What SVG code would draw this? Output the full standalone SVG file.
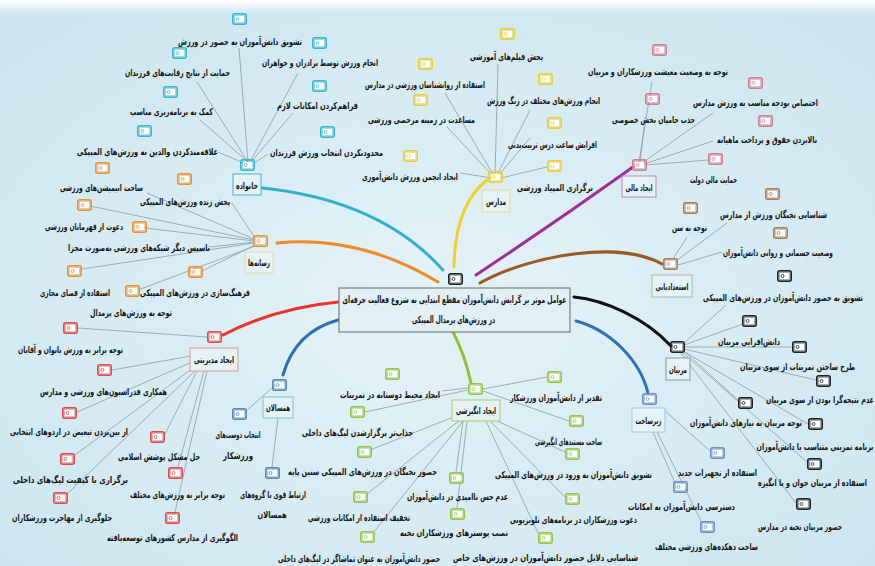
<svg xmlns="http://www.w3.org/2000/svg" xmlns:xlink="http://www.w3.org/1999/xlink" width="875" height="566" viewBox="0 0 875 566">
<style>
.t{font-family:"DejaVu Sans",sans-serif;font-size:9.5px;font-weight:bold;fill:#151515;text-anchor:middle}
.lt{font-family:"DejaVu Sans",sans-serif;font-size:10px;font-weight:bold;fill:#151515;text-anchor:middle}
.ln{stroke:#8d9ca1;stroke-width:0.8;fill:none}
.br{fill:none;stroke-width:3;stroke-linecap:round}
.lb{fill:#e6f3f6;stroke-width:1}
.cy{color:#3ab6cf}.ye{color:#ecd02e}.pk{color:#d77a8e}.bn{color:#b07a55}.bk{color:#222}
.hb{color:#5a86b2}.gr{color:#97c444}.zb{color:#6b8fc4}.rd{color:#e04848}.or{color:#ec9030}
</style>
<defs>
<radialGradient id="bg" cx="0.5" cy="0.55" r="0.7">
<stop offset="0" stop-color="#e5f3f8"/>
<stop offset="1" stop-color="#cce5ef"/>
</radialGradient>
<linearGradient id="top" x1="0" y1="0" x2="0" y2="1">
<stop offset="0" stop-color="#ffffff" stop-opacity="1"/>
<stop offset="1" stop-color="#ffffff" stop-opacity="0"/>
</linearGradient>
<g id="ic">
<rect x="0.75" y="0.75" width="13.5" height="10.5" rx="2" fill="currentColor" fill-opacity="0.3" stroke="currentColor" stroke-width="1.5"/>
<rect x="3" y="3" width="9" height="6" rx="1" fill="#ffffff"/>
<circle cx="5.5" cy="6" r="1.5" fill="none" stroke="currentColor" stroke-width="0.8"/>
</g>
</defs>
<rect width="875" height="566" fill="url(#bg)"/>
<rect width="875" height="14" fill="url(#top)"/>

<g id="connectors">
<path class="br" stroke="#2fb2c9" d="M262,188 Q380,200 443,270"/>
<path class="br" stroke="#ef8a2a" d="M277,243 Q360,235 438,282"/>
<path class="br" stroke="#e8332f" d="M223,335 Q275,308 338,302"/>
<path class="br" stroke="#2f6fb2" d="M283,375 Q295,332 338,320"/>
<path class="br" stroke="#8fc23b" d="M453,332 Q465,355 471,383"/>
<path class="br" stroke="#2f6fb2" d="M576,321 C610,330 640,360 648,393"/>
<path class="br" stroke="#111111" d="M574,297 C605,300 645,318 671,346"/>
<path class="br" stroke="#9a5a24" d="M480,283 C530,255 620,240 662,264"/>
<path class="br" stroke="#9b2f96" d="M476,275 Q556,222 633,167"/>
<path class="br" stroke="#f0d030" d="M454,267 Q455,205 487,180"/>
<path class="ln" d="M248,162 L239,48 M248,162 L197,82 M248,162 L200,120 M246,164 L218,152 M250,162 L298,73 M251,162 L293,113 M253,164 L268,154"/>
<path class="ln" d="M495,175 L498,64 M494,176 L445,93 M497,175 L530,110 M494,177 L447,127 M498,176 L530,138 M492,178 L460,173 M501,178 L547,167"/>
<path class="ln" d="M639,162 L652,82 M642,163 L713,113 M640,162 L644,127 M644,164 L713,141 M646,165 L708,160"/>
<path class="ln" d="M676,261 L727,223 M673,259 L687,237 M678,265 L722,252"/>
<path class="ln" d="M683,344 L726,305 M684,345 L743,324 M685,347 L792,347 M684,349 L816,380 M683,350 L740,402 M683,351 L808,424 M682,352 L807,462 M680,352 L796,503"/>
<path class="ln" d="M664,410 L710,451 M653,432 L675,483 M657,432 L702,523"/>
<path class="ln" d="M483,389 L547,377 M483,391 L569,421 M495,420 L565,452 M490,421 L565,497 M486,421 L538,533 M463,421 L456,472 M467,421 L457,508 M468,388 L442,391 M468,390 L365,412 M456,416 L370,450 M460,420 L367,494 M464,420 L373,533"/>
<path class="ln" d="M274,386 L245,412 M278,418 L272,467"/>
<path class="ln" d="M207,337 L78,328 M191,356 L112,370 M192,362 L77,412 M197,371 L165,434 M193,368 L75,455 M204,371 L178,467 M196,370 L67,494 M207,371 L175,512"/>
<path class="ln" d="M254,239 L147,193 M255,238 L232,203 M254,240 L90,206 M254,241 L145,228 M254,242 L210,247 M254,243 L82,269 M255,245 L202,271 M255,246 L138,290"/>
</g>

<g id="center">
<rect x="339" y="288" width="231" height="44" fill="#e2f0f4" stroke="#7a7f80" stroke-width="1.2"/>
<text class="lt" x="454.5" y="303" textLength="224" lengthAdjust="spacingAndGlyphs">عوامل موثر بر گرایش دانش‌آموزان مقطع ابتدایی به شروع فعالیت حرفه‌ای</text>
<text class="lt" x="453.5" y="323" textLength="83" lengthAdjust="spacingAndGlyphs">در ورزش‌های پرمدال المپیکی</text>
<use href="#ic" x="448" y="273" class="bk"/>
</g>

<g id="family"><use href="#ic" x="240" y="159" class="cy"/><rect class="lb" x="233" y="174" width="28" height="21" stroke="#3ab6cf"/><text class="t" x="247" y="189" textLength="22" lengthAdjust="spacingAndGlyphs">خانواده</text></g>
<g id="fa1"><use href="#ic" x="232" y="13" class="cy"/><text class="t" x="240" y="45" textLength="124" lengthAdjust="spacingAndGlyphs">تشویق دانش‌آموزان به حضور در ورزش</text></g>
<g id="fa2"><use href="#ic" x="172" y="47" class="cy"/><text class="t" x="177.5" y="76" textLength="105" lengthAdjust="spacingAndGlyphs">حمایت از نتایج رقابت‌های فرزندان</text></g>
<g id="fa3"><use href="#ic" x="163" y="86" class="cy"/><text class="t" x="171.5" y="115" textLength="83" lengthAdjust="spacingAndGlyphs">کمک به برنامه‌ریزی مناسب</text></g>
<g id="fa4"><use href="#ic" x="137" y="125" class="cy"/><text class="t" x="147.5" y="155" textLength="141" lengthAdjust="spacingAndGlyphs">علاقه‌مندکردن والدین به ورزش‌های المپیکی</text></g>
<g id="fa5"><use href="#ic" x="312" y="37" class="cy"/><text class="t" x="320" y="66" textLength="116" lengthAdjust="spacingAndGlyphs">انجام ورزش توسط برادران و خواهران</text></g>
<g id="fa6"><use href="#ic" x="312" y="80" class="cy"/><text class="t" x="317.5" y="109" textLength="81" lengthAdjust="spacingAndGlyphs">فراهم‌کردن امکانات لازم</text></g>
<g id="fa7"><use href="#ic" x="320" y="126" class="cy"/><text class="t" x="326.5" y="156" textLength="113" lengthAdjust="spacingAndGlyphs">محدودنکردن انتخاب ورزش فرزندان</text></g>

<g id="schools"><use href="#ic" x="488" y="171" class="ye"/><rect class="lb" x="482" y="190" width="28" height="22" stroke="#e8dc8a"/><text class="t" x="496" y="205" textLength="20" lengthAdjust="spacingAndGlyphs">مدارس</text></g>
<g id="sc1"><use href="#ic" x="500" y="28" class="ye"/><text class="t" x="506.5" y="60" textLength="73" lengthAdjust="spacingAndGlyphs">پخش فیلم‌های آموزشی</text></g>
<g id="sc2"><use href="#ic" x="418" y="58" class="ye"/><text class="t" x="425" y="88" textLength="120" lengthAdjust="spacingAndGlyphs">استفاده از روانشناسان ورزشی در مدارس</text></g>
<g id="sc3"><use href="#ic" x="538" y="73" class="ye"/><text class="t" x="543.5" y="104" textLength="113" lengthAdjust="spacingAndGlyphs">انجام ورزش‌های مختلف در زنگ ورزش</text></g>
<g id="sc4"><use href="#ic" x="413" y="94" class="ye"/><text class="t" x="421.5" y="123" textLength="107" lengthAdjust="spacingAndGlyphs">مساعدت در زمینه مرخصی ورزشی</text></g>
<g id="sc5"><use href="#ic" x="547" y="117" class="ye"/><text class="t" x="552.5" y="148" textLength="89" lengthAdjust="spacingAndGlyphs">افزایش ساعت درس تربیت‌بدنی</text></g>
<g id="sc6"><use href="#ic" x="403" y="150" class="ye"/><text class="t" x="410" y="180" textLength="96" lengthAdjust="spacingAndGlyphs">ایجاد انجمن ورزش دانش‌آموزی</text></g>
<g id="sc7"><use href="#ic" x="547" y="160" class="ye"/><text class="t" x="555" y="191" textLength="76" lengthAdjust="spacingAndGlyphs">برگزاری المپیاد ورزشی</text></g>

<g id="financial"><use href="#ic" x="632" y="159" class="pk"/><rect class="lb" x="622" y="176" width="34" height="21" stroke="#b884b4"/><text class="t" x="639" y="191" textLength="27" lengthAdjust="spacingAndGlyphs">ایجاد مالی</text></g>
<g id="fi1"><use href="#ic" x="652" y="44" class="pk"/><text class="t" x="658" y="75" textLength="140" lengthAdjust="spacingAndGlyphs">توجه به وضعیت معیشت ورزشکاران و مربیان</text></g>
<g id="fi2"><use href="#ic" x="748" y="77" class="pk"/><text class="t" x="755.5" y="106" textLength="125" lengthAdjust="spacingAndGlyphs">اختصاص بودجه مناسب به ورزش مدارس</text></g>
<g id="fi3"><use href="#ic" x="645" y="93" class="pk"/><text class="t" x="653.5" y="123" textLength="83" lengthAdjust="spacingAndGlyphs">جذب حامیان بخش خصوصی</text></g>
<g id="fi4"><use href="#ic" x="758" y="115" class="pk"/><text class="t" x="767" y="143" textLength="100" lengthAdjust="spacingAndGlyphs">بالابردن حقوق و پرداخت ماهیانه</text></g>
<g id="fi5"><use href="#ic" x="708" y="153" class="pk"/><text class="t" x="713.5" y="183" textLength="47" lengthAdjust="spacingAndGlyphs">حمایت مالی دولت</text></g>

<g id="talent"><use href="#ic" x="663" y="258" class="bn"/><rect class="lb" x="652" y="275" width="40" height="22" stroke="#a9b8a8"/><text class="t" x="672" y="290" textLength="33" lengthAdjust="spacingAndGlyphs">استعدادیابی</text></g>
<g id="ta1"><use href="#ic" x="765" y="188" class="bn"/><text class="t" x="773.5" y="218" textLength="107" lengthAdjust="spacingAndGlyphs">شناسایی نخبگان ورزش از مدارس</text></g>
<g id="ta2"><use href="#ic" x="683" y="202" class="bn"/><text class="t" x="689.5" y="231" textLength="35" lengthAdjust="spacingAndGlyphs">توجه به سن</text></g>
<g id="ta3"><use href="#ic" x="773" y="227" class="bn"/><text class="t" x="778" y="256" textLength="110" lengthAdjust="spacingAndGlyphs">وضعیت جسمانی و روانی دانش‌آموزان</text></g>

<g id="coaches"><use href="#ic" x="670" y="341" class="bk"/><rect class="lb" x="666" y="358" width="24" height="22" stroke="#8a9696"/><text class="t" x="678" y="373" textLength="18" lengthAdjust="spacingAndGlyphs">مربیان</text></g>
<g id="co1"><use href="#ic" x="777" y="270" class="bk"/><text class="t" x="783" y="301" textLength="160" lengthAdjust="spacingAndGlyphs">تشویق به حضور دانش‌آموزان در ورزش‌های المپیکی</text></g>
<g id="co2"><use href="#ic" x="742" y="315" class="bk"/><text class="t" x="749" y="345" textLength="62" lengthAdjust="spacingAndGlyphs">دانش‌افزایی مربیان</text></g>
<g id="co3"><use href="#ic" x="792" y="341" class="bk"/><text class="t" x="797.5" y="370" textLength="115" lengthAdjust="spacingAndGlyphs">طرح ساختن تمرینات از سوی مربیان</text></g>
<g id="co4"><use href="#ic" x="816" y="375" class="bk"/><text class="t" x="820" y="403" textLength="108" lengthAdjust="spacingAndGlyphs">عدم نتیجه‌گرا بودن از سوی مربیان</text></g>
<g id="co5"><use href="#ic" x="738" y="397" class="bk"/><text class="t" x="746" y="426" textLength="112" lengthAdjust="spacingAndGlyphs">توجه مربیان به نیازهای دانش‌آموزان</text></g>
<g id="co6"><use href="#ic" x="808" y="418" class="bk"/><text class="t" x="815" y="450" textLength="117" lengthAdjust="spacingAndGlyphs">برنامه تمرینی متناسب با دانش‌آموزان</text></g>
<g id="co7"><use href="#ic" x="807" y="458" class="bk"/><text class="t" x="812.5" y="486" textLength="109" lengthAdjust="spacingAndGlyphs">استفاده از مربیان جوان و با انگیزه</text></g>
<g id="co8"><use href="#ic" x="796" y="498" class="bk"/><text class="t" x="800" y="530" textLength="84" lengthAdjust="spacingAndGlyphs">حضور مربیان نخبه در مدارس</text></g>

<g id="infra"><use href="#ic" x="642" y="393" class="zb"/><rect class="lb" x="632" y="408" width="33" height="24" stroke="#9cc9dc"/><text class="t" x="648.5" y="424" textLength="26" lengthAdjust="spacingAndGlyphs">زیرساخت</text></g>
<g id="in1"><use href="#ic" x="710" y="447" class="zb"/><text class="t" x="717.5" y="476" textLength="79" lengthAdjust="spacingAndGlyphs">استفاده از تجهیزات جدید</text></g>
<g id="in2"><use href="#ic" x="673" y="481" class="zb"/><text class="t" x="681.5" y="510" textLength="107" lengthAdjust="spacingAndGlyphs">دسترسی دانش‌آموزان به امکانات</text></g>
<g id="in3"><use href="#ic" x="700" y="521" class="zb"/><text class="t" x="706.5" y="550" textLength="103" lengthAdjust="spacingAndGlyphs">ساخت دهکده‌های ورزشی مختلف</text></g>

<g id="motivation"><use href="#ic" x="468" y="383" class="gr"/><rect class="lb" x="452" y="400" width="48" height="21" stroke="#a6cf6a"/><text class="t" x="476" y="414" textLength="40" lengthAdjust="spacingAndGlyphs">ایجاد انگیزشی</text></g>
<g id="mo1"><use href="#ic" x="547" y="371" class="gr"/><text class="t" x="556" y="401" textLength="92" lengthAdjust="spacingAndGlyphs">تقدیر از دانش‌آموزان ورزشکار</text></g>
<g id="mo2"><use href="#ic" x="569" y="415" class="gr"/><text class="t" x="568.5" y="445" textLength="67" lengthAdjust="spacingAndGlyphs">ساخت مستندهای انگیزشی</text></g>
<g id="mo3"><use href="#ic" x="565" y="448" class="gr"/><text class="t" x="573.5" y="478" textLength="157" lengthAdjust="spacingAndGlyphs">تشویق دانش‌آموزان به ورود در ورزش‌های المپیکی</text></g>
<g id="mo4"><use href="#ic" x="565" y="493" class="gr"/><text class="t" x="573.5" y="523" textLength="127" lengthAdjust="spacingAndGlyphs">دعوت ورزشکاران در برنامه‌های تلویزیونی</text></g>
<g id="mo5"><use href="#ic" x="538" y="532" class="gr"/><text class="t" x="545.5" y="561" textLength="185" lengthAdjust="spacingAndGlyphs">شناسایی دلایل حضور دانش‌آموزان در ورزش‌های خاص</text></g>
<g id="mo6"><use href="#ic" x="449" y="472" class="gr"/><text class="t" x="457.5" y="500" textLength="101" lengthAdjust="spacingAndGlyphs">عدم حس ناامیدی در دانش‌آموزان</text></g>
<g id="mo7"><use href="#ic" x="450" y="508" class="gr"/><text class="t" x="454" y="536" textLength="108" lengthAdjust="spacingAndGlyphs">نصب پوسترهای ورزشکاران نخبه</text></g>
<g id="mo8"><use href="#ic" x="385" y="368" class="gr"/><text class="t" x="390" y="398" textLength="100" lengthAdjust="spacingAndGlyphs">ایجاد محیط دوستانه در تمرینات</text></g>
<g id="mo9"><use href="#ic" x="350" y="406" class="gr"/><text class="t" x="357.5" y="436" textLength="111" lengthAdjust="spacingAndGlyphs">جذاب‌تر برگزارشدن لیگ‌های داخلی</text></g>
<g id="mo10"><use href="#ic" x="357" y="446" class="gr"/><text class="t" x="362.5" y="475" textLength="149" lengthAdjust="spacingAndGlyphs">حضور نخبگان در ورزش‌های المپیکی سنین پایه</text></g>
<g id="mo11"><use href="#ic" x="353" y="491" class="gr"/><text class="t" x="359" y="521" textLength="102" lengthAdjust="spacingAndGlyphs">تخفیف استفاده از امکانات ورزشی</text></g>
<g id="mo12"><use href="#ic" x="360" y="531" class="gr"/><text class="t" x="359" y="562" textLength="162" lengthAdjust="spacingAndGlyphs">حضور دانش‌آموزان به عنوان تماشاگر در لیگ‌های داخلی</text></g>

<g id="peers"><use href="#ic" x="272" y="379" class="hb"/><rect class="lb" x="263" y="397" width="30" height="21" stroke="#7fc0d6"/><text class="t" x="278" y="411" textLength="24" lengthAdjust="spacingAndGlyphs">همسالان</text></g>
<g id="pe1"><use href="#ic" x="232" y="408" class="hb"/><text class="t" x="238" y="438" textLength="45" lengthAdjust="spacingAndGlyphs">انتخاب دوست‌های</text><text class="t" x="238" y="459" textLength="30" lengthAdjust="spacingAndGlyphs">ورزشکار</text></g>
<g id="pe2"><use href="#ic" x="265" y="467" class="hb"/><text class="t" x="273" y="498" textLength="66" lengthAdjust="spacingAndGlyphs">ارتباط قوی با گروه‌های</text><text class="t" x="272" y="518" textLength="29" lengthAdjust="spacingAndGlyphs">همسالان</text></g>

<g id="management"><use href="#ic" x="207" y="331" class="rd"/><rect class="lb" x="190" y="348" width="48" height="23" stroke="#d99a9a"/><text class="t" x="214" y="363" textLength="40" lengthAdjust="spacingAndGlyphs">ایجاد مدیریتی</text></g>
<g id="ma1"><use href="#ic" x="63" y="322" class="rd"/><text class="t" x="70.5" y="353" textLength="105" lengthAdjust="spacingAndGlyphs">توجه برابر به ورزش بانوان و آقایان</text></g>
<g id="ma2"><use href="#ic" x="97" y="364" class="rd"/><text class="t" x="103.5" y="395" textLength="127" lengthAdjust="spacingAndGlyphs">همکاری فدراسیون‌های ورزشی و مدارس</text></g>
<g id="ma3"><use href="#ic" x="62" y="407" class="rd"/><text class="t" x="69" y="435" textLength="118" lengthAdjust="spacingAndGlyphs">از بین‌بردن تبعیض در اردوهای انتخابی</text></g>
<g id="ma4"><use href="#ic" x="150" y="431" class="rd"/><text class="t" x="159" y="460" textLength="82" lengthAdjust="spacingAndGlyphs">حل مشکل پوشش اسلامی</text></g>
<g id="ma5"><use href="#ic" x="60" y="453" class="rd"/><text class="t" x="70.5" y="483" textLength="115" lengthAdjust="spacingAndGlyphs">برگزاری با کیفیت لیگ‌های داخلی</text></g>
<g id="ma6"><use href="#ic" x="168" y="467" class="rd"/><text class="t" x="177.5" y="498" textLength="95" lengthAdjust="spacingAndGlyphs">توجه برابر به ورزش‌های مختلف</text></g>
<g id="ma7"><use href="#ic" x="53" y="492" class="rd"/><text class="t" x="62" y="521" textLength="100" lengthAdjust="spacingAndGlyphs">جلوگیری از مهاجرت ورزشکاران</text></g>
<g id="ma8"><use href="#ic" x="165" y="512" class="rd"/><text class="t" x="172.5" y="541" textLength="131" lengthAdjust="spacingAndGlyphs">الگوگیری از مدارس کشورهای توسعه‌یافته</text></g>

<g id="media"><use href="#ic" x="253" y="235" class="or"/><rect class="lb" x="245" y="252" width="28" height="21" stroke="#e3d9a8"/><text class="t" x="259" y="266" textLength="22" lengthAdjust="spacingAndGlyphs">رسانه‌ها</text></g>
<g id="me1"><use href="#ic" x="95" y="162" class="or"/><text class="t" x="101.5" y="191" textLength="83" lengthAdjust="spacingAndGlyphs">ساخت انیمیشن‌های ورزشی</text></g>
<g id="me2"><use href="#ic" x="177" y="173" class="or"/><text class="t" x="185" y="205" textLength="90" lengthAdjust="spacingAndGlyphs">پخش زنده ورزش‌های المپیکی</text></g>
<g id="me3"><use href="#ic" x="77" y="199" class="or"/><text class="t" x="84" y="230" textLength="78" lengthAdjust="spacingAndGlyphs">دعوت از قهرمانان ورزشی</text></g>
<g id="me4"><use href="#ic" x="132" y="221" class="or"/><text class="t" x="139" y="251" textLength="142" lengthAdjust="spacingAndGlyphs">تاسیس دیگر شبکه‌های ورزشی به‌صورت مجزا</text></g>
<g id="me5"><use href="#ic" x="67" y="265" class="or"/><text class="t" x="75" y="296" textLength="70" lengthAdjust="spacingAndGlyphs">استفاده از فضای مجازی</text></g>
<g id="me6"><use href="#ic" x="188" y="266" class="or"/><text class="t" x="195" y="296" textLength="110" lengthAdjust="spacingAndGlyphs">فرهنگ‌سازی در ورزش‌های المپیکی</text></g>
<g id="me7"><use href="#ic" x="125" y="285" class="or"/><text class="t" x="131" y="316" textLength="82" lengthAdjust="spacingAndGlyphs">توجه به ورزش‌های پرمدال</text></g>
</svg>
